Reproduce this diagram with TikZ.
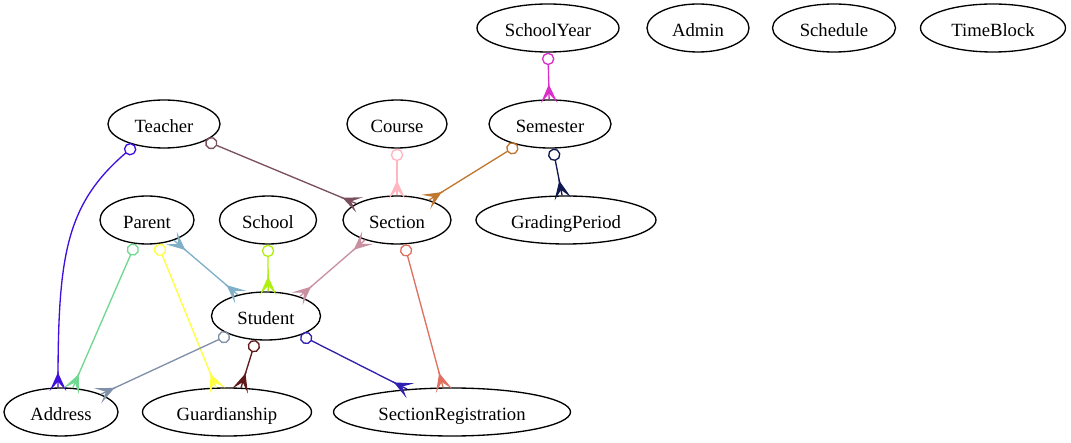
\documentclass[tikz,border=0pt]{standalone}
\usepackage{fontspec}
\setmainfont{Liberation Serif}
\usetikzlibrary{arrows.meta,shapes.geometric}
\pgfdeclarearrow{
  name = Crow,
  setup code = {
    \pgfarrowssettipend{0pt}
    \pgfarrowssetlineend{0pt}
    \pgfarrowssetbackend{-13.3pt}
    \pgfarrowssetvisualbackend{-13.3pt}
    \pgfarrowshullpoint{0pt}{6pt}
    \pgfarrowshullpoint{0pt}{-6pt}
    \pgfarrowshullpoint{-13.3pt}{0pt}
  },
  drawing code = {
    \pgfsetdash{}{0pt}
    \pgfsetmiterjoin
    \pgfpathmoveto{\pgfpoint{-13.3pt}{0pt}}
    \pgfpathlineto{\pgfpoint{0pt}{6pt}}
    \pgfpathlineto{\pgfpoint{-6.65pt}{0pt}}
    \pgfpathclose
    \pgfpathmoveto{\pgfpoint{-13.3pt}{0pt}}
    \pgfpathlineto{\pgfpoint{0pt}{-6pt}}
    \pgfpathlineto{\pgfpoint{-6.65pt}{0pt}}
    \pgfpathclose
    \pgfusepathqfillstroke
  }
}
\definecolor{cA}{HTML}{DC2EC8}
\definecolor{cB}{HTML}{4010E0}
\definecolor{cC}{HTML}{7A5060}
\definecolor{cD}{HTML}{FFB6C1}
\definecolor{cE}{HTML}{C07830}
\definecolor{cF}{HTML}{101850}
\definecolor{cG}{HTML}{70D890}
\definecolor{cH}{HTML}{FFFF40}
\definecolor{cI}{HTML}{80B0C8}
\definecolor{cJ}{HTML}{B0F010}
\definecolor{cK}{HTML}{C890A0}
\definecolor{cL}{HTML}{E07060}
\definecolor{cM}{HTML}{8090A8}
\definecolor{cN}{HTML}{601818}
\definecolor{cO}{HTML}{3020B0}
\tikzset{
  ent/.style={ellipse, draw=black, line width=1.33pt, minimum height=48pt, inner sep=0pt,
    text height=17pt, text depth=0pt, font=\fontsize{18.67}{22}\selectfont},
  rel/.style={line width=1.33pt, {Circle[open,length=12.5pt,width=12.5pt]}-{Crow}},
  mm/.style={line width=1.33pt, {Crow}-{Crow}}
}
\begin{document}
\begin{tikzpicture}[x=1pt,y=-1pt]
\useasboundingbox[fill=white] (0,0) rectangle (1071,443);
\node[ent, minimum width=142pt] (schoolyear) at (548,28) {SchoolYear};
\node[ent, minimum width=102pt] (admin) at (698,28) {Admin};
\node[ent, minimum width=123pt] (schedule) at (834,28) {Schedule};
\node[ent, minimum width=145pt] (timeblock) at (993,28) {TimeBlock};
\node[ent, minimum width=112pt] (teacher) at (164,124) {Teacher};
\node[ent, minimum width=100pt] (course) at (397,124) {Course};
\node[ent, minimum width=122pt] (semester) at (550,124) {Semester};
\node[ent, minimum width=94pt] (parent) at (147,220) {Parent};
\node[ent, minimum width=97pt] (school) at (268,220) {School};
\node[ent, minimum width=108pt] (section) at (397,220) {Section};
\node[ent, minimum width=180pt] (grading) at (566,220) {GradingPeriod};
\node[ent, minimum width=109pt] (student) at (266,316) {Student};
\node[ent, minimum width=114pt] (address) at (61,412) {Address};
\node[ent, minimum width=169pt] (guardian) at (227,412) {Guardianship};
\node[ent, minimum width=237pt] (secreg) at (452,412) {SectionRegistration};

\draw[rel, cA] (schoolyear.-90) -- (semester.92);
\draw[rel, cB] (teacher.-144) .. controls +(-70,60) and +(0,-130) .. (address.97);
\draw[rel, cC] (teacher.-22) -- (section.158);
\draw[rel, cD] (course.-90) -- (section.90);
\draw[rel, cE] (semester.-147) -- (section.32);
\draw[rel, cF] (semester.-83) -- (grading.99);
\draw[rel, cG] (parent.-116) -- (address.64.4);
\draw[rel, cH] (parent.-66.5) -- (guardian.114.6);
\draw[mm, cI] (parent.-37.6) -- (student.143.5);
\draw[rel, cJ] (school.-90) -- (student.85);
\draw[mm, cK] (section.-148) -- (student.30.7);
\draw[rel, cL] (section.-73) -- (secreg.110.6);
\draw[rel, cM] (student.-153) -- (address.24.7);
\draw[rel, cN] (student.-113.5) -- (guardian.60.5);
\draw[rel, cO] (student.-29) -- (secreg.153.4);
\end{tikzpicture}
\end{document}
